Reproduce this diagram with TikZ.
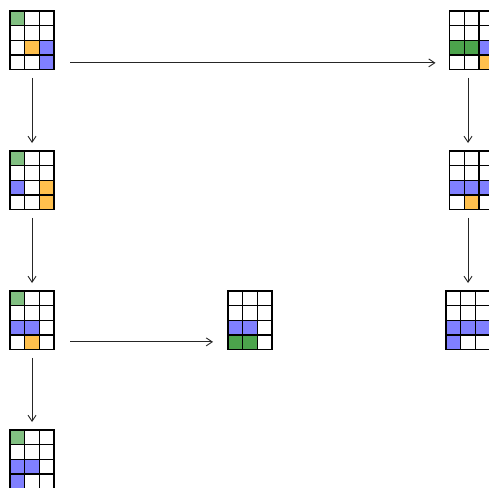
\documentclass[tikz,border=0pt]{standalone}
\usetikzlibrary{arrows.meta}
\definecolor{lgreen}{RGB}{130,192,130}
\definecolor{dgreen}{RGB}{76,164,76}
\definecolor{cblue}{RGB}{128,128,255}
\definecolor{corange}{RGB}{255,192,77}
\newcommand\cellgrid[2]{%
  \foreach \c/\r/\col in {#2}
    \fill[\col] ([xshift={\c*14.7pt},yshift={-\r*14.7pt}]#1.north west) rectangle ++(14.7,14.7);
  \foreach \i in {0,...,3}
    \draw[gridline] ([xshift={\i*14.7pt}]#1.north west) -- ++(0,58.8);
  \foreach \j in {0,...,4}
    \draw[gridline] ([yshift={-\j*14.7pt}]#1.north west) -- ++(44.1,0);
}
\begin{document}
\begin{tikzpicture}[x=1pt,y=-1pt,
  gridbox/.style={draw=none,inner sep=0pt,outer sep=0pt,minimum width=44.1pt,minimum height=58.8pt,anchor=north west},
  gridline/.style={draw=black,line width=1.3pt,line cap=rect},
  arr/.style={draw=black!85,line width=0.9pt,-{Straight Barb[length=6pt,width=8pt]}}]
\useasboundingbox (0,0) rectangle (489,487);
\clip (0,0) rectangle (489,487);
\fill[white] (0,0) rectangle (489,487);
\node[gridbox] (g1) at (10,11) {};
\node[gridbox] (g2) at (10,151) {};
\node[gridbox] (g3) at (10,291) {};
\node[gridbox] (g4) at (10,430) {};
\node[gridbox] (m) at (228,291) {};
\node[gridbox] (r1) at (449.5,11) {};
\node[gridbox] (r2) at (449.5,151) {};
\node[gridbox] (r3) at (446,291) {};
\cellgrid{g1}{0/0/lgreen,1/2/corange,2/2/cblue,2/3/cblue}
\cellgrid{g2}{0/0/lgreen,0/2/cblue,2/2/corange,2/3/corange}
\cellgrid{g3}{0/0/lgreen,0/2/cblue,1/2/cblue,1/3/corange}
\cellgrid{g4}{0/0/lgreen,0/2/cblue,1/2/cblue,0/3/cblue}
\cellgrid{m}{0/2/cblue,1/2/cblue,0/3/dgreen,1/3/dgreen}
\cellgrid{r1}{0/2/dgreen,1/2/dgreen,2/2/cblue,2/3/corange}
\cellgrid{r2}{0/2/cblue,1/2/cblue,2/2/cblue,1/3/corange}
\cellgrid{r3}{0/2/cblue,1/2/cblue,2/2/cblue,0/3/cblue}
% connectors
\draw[arr,shorten <=16pt,shorten >=14pt] ([yshift=-22.5pt]g1.east) -- ([yshift=-22.5pt]r1.west);
\draw[arr,shorten <=8pt,shorten >=8pt] (g1.south) -- (g2.north);
\draw[arr,shorten <=8pt,shorten >=8pt] (g2.south) -- (g3.north);
\draw[arr,shorten <=8pt,shorten >=8pt] (g3.south) -- (g4.north);
\draw[arr,shorten <=16pt,shorten >=15pt] ([yshift=-21.5pt]g3.east) -- ([yshift=-21.5pt]m.west);
\draw[arr,shorten <=8pt,shorten >=8pt] ([xshift=-3.5pt]r1.south) -- ([xshift=-3.5pt]r2.north);
\draw[arr,shorten <=8pt,shorten >=8pt] ([xshift=-3.5pt]r2.south) -- (r3.north);
\end{tikzpicture}
\end{document}
